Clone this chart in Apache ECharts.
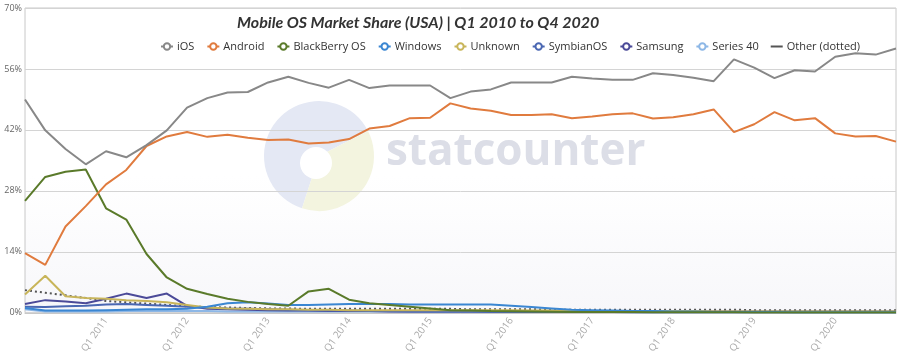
<!DOCTYPE html>
<html><head><meta charset="utf-8">
<script src="https://cdn.jsdelivr.net/npm/echarts@6/dist/echarts.min.js"></script>
<style>html,body{margin:0;padding:0;background:#fff}#c{width:900px;height:356px}</style>
</head><body><div id="c"></div>
<script>
const categories = ['Q1 2010','Q2 2010','Q3 2010','Q4 2010','Q1 2011','Q2 2011','Q3 2011','Q4 2011',
'Q1 2012','Q2 2012','Q3 2012','Q4 2012','Q1 2013','Q2 2013','Q3 2013','Q4 2013',
'Q1 2014','Q2 2014','Q3 2014','Q4 2014','Q1 2015','Q2 2015','Q3 2015','Q4 2015',
'Q1 2016','Q2 2016','Q3 2016','Q4 2016','Q1 2017','Q2 2017','Q3 2017','Q4 2017',
'Q1 2018','Q2 2018','Q3 2018','Q4 2018','Q1 2019','Q2 2019','Q3 2019','Q4 2019',
'Q1 2020','Q2 2020','Q3 2020','Q4 2020'];
const yTicks = [0, 14, 28, 42, 56, 70];
const ios = [49.0,41.9,37.6,34.1,37.1,35.7,38.5,41.9,47.1,49.3,50.6,50.7,52.9,54.2,52.8,51.7,53.5,51.6,52.2,52.2,52.2,49.3,50.8,51.3,52.9,52.9,52.9,54.2,53.8,53.5,53.5,55.0,54.6,54.0,53.2,58.2,56.3,53.9,55.7,55.4,58.8,59.6,59.3,60.7];
const android = [13.7,11.0,19.8,24.5,29.5,32.8,38.3,40.5,41.5,40.4,40.9,40.2,39.7,39.8,38.9,39.1,39.9,42.3,42.9,44.7,44.8,48.1,46.9,46.4,45.4,45.4,45.6,44.7,45.1,45.6,45.8,44.6,44.9,45.6,46.7,41.5,43.3,46.1,44.2,44.7,41.2,40.5,40.6,39.3];
const blackberry = [25.7,31.2,32.4,32.9,24.0,21.4,13.5,8.1,5.5,4.3,3.2,2.5,2.0,1.6,4.9,5.5,3.0,2.2,1.8,1.4,1.0,0.6,0.5,0.4,0.35,0.3,0.25,0.2,0.2,0.15,0.15,0.1,0.1,0.1,0.1,0.1,0.05,0.05,0.05,0.05,0.05,0.05,0.05,0.05];
const windows = [1.1,0.5,0.5,0.5,0.6,0.7,0.8,0.8,0.9,1.4,2.2,2.4,2.1,1.8,1.8,1.9,2.0,2.0,2.0,1.9,1.9,1.9,1.9,1.9,1.6,1.3,1.0,0.7,0.6,0.5,0.4,0.4,0.3,0.3,0.2,0.2,0.2,0.2,0.1,0.1,0.1,0.1,0.1,0.1];
const unknown = [4.2,8.5,3.8,3.4,3.2,2.9,2.7,2.4,1.8,1.2,1.0,0.9,0.8,0.8,0.7,0.7,0.6,0.6,0.6,0.6,0.6,0.6,0.6,0.6,0.6,0.5,0.5,0.5,0.4,0.4,0.4,0.4,0.4,0.4,0.3,0.3,0.3,0.3,0.3,0.3,0.3,0.3,0.3,0.3];
const symbian = [1.4,1.3,1.5,1.6,1.9,2.0,1.8,1.6,1.4,1.2,1.0,0.9,0.8,0.7,0.6,0.5,0.5,0.4,0.4,0.3,0.3,0.3,0.3,0.2,0.2,0.2,0.2,0.2,0.2,0.2,0.1,0.1,0.1,0.1,0.1,0.1,0.1,0.1,0.1,0.1,0.1,0.1,0.1,0.1];
const samsung = [2.0,2.9,2.6,2.2,3.2,4.4,3.4,4.4,1.6,0.9,0.8,0.7,0.6,0.5,0.5,0.4,0.4,0.4,0.3,0.3,0.3,0.3,0.3,0.3,0.3,0.3,0.3,0.3,0.3,0.3,0.3,0.3,0.3,0.3,0.3,0.3,0.3,0.3,0.3,0.3,0.3,0.3,0.3,0.3];
const series40 = [0.8,0.3,0.3,0.3,0.3,0.4,0.4,0.4,0.4,0.4,0.3,0.3,0.3,0.3,0.3,0.3,0.3,0.3,0.3,0.3,0.2,0.2,0.2,0.2,0.2,0.2,0.2,0.2,0.2,0.2,0.1,0.1,0.1,0.1,0.1,0.1,0.1,0.1,0.1,0.1,0.1,0.1,0.1,0.1];
const other = [5.2,4.6,4.0,3.4,2.7,2.4,2.1,1.8,1.5,1.3,1.2,1.1,1.0,1.0,0.9,0.9,0.9,0.9,0.9,0.9,0.9,0.9,0.8,0.8,0.8,0.8,0.7,0.7,0.7,0.7,0.7,0.7,0.7,0.7,0.7,0.7,0.6,0.6,0.6,0.6,0.6,0.6,0.6,0.6];

const seriesNames = ['iOS','Android','BlackBerry OS','Windows','Unknown','SymbianOS','Samsung','Series 40','Other (dotted)'];
const seriesData = [ios, android, blackberry, windows, unknown, symbian, samsung, series40, other];
const colors = ['#888888','#e07b3e','#5a7a2a','#3a86d2','#c8b55a','#4a67b2','#4b4a98','#8db7e6','#555555'];

const chart = echarts.init(document.getElementById('c'), null, {renderer:'canvas'});
const series = seriesNames.map((n, i) => ({
  name: n, type: 'line', data: seriesData[i], showSymbol: false, symbol: 'emptyCircle', symbolSize: 6,
  lineStyle: {width: 2, color: colors[i], type: n === 'Other (dotted)' ? [2, 3] : 'solid'},
  itemStyle: {color: colors[i]},
  z: 10 - i, animation: false
}));

chart.setOption({
  animation: false,
  color: colors,
  title: {
    text: 'Mobile OS Market Share (USA) | Q1 2010 to Q4 2020',
    left: 232, top: 10,
    textStyle: {fontFamily: 'Lato, "Open Sans", sans-serif', fontSize: 16, fontWeight: 'bold', fontStyle: 'italic', color: '#333'}
  },
  legend: {
    left: 155, top: 36, itemWidth: 12, itemHeight: 8, itemGap: 12,
    textStyle: {fontFamily: '"Open Sans", sans-serif', fontSize: 11, color: '#333', padding: [0,0,0,-1]},
    data: seriesNames.map(n => n === 'Other (dotted)' ? {name: n, icon: 'path://M0 0H12V2H0Z'} : {name: n})
  },
  grid: {left: 25, right: 4, top: 8, bottom: 42, show: true, borderColor: '#c8c8c8', borderWidth: 1,
    backgroundColor: new echarts.graphic.LinearGradient(0,0,0,1,[{offset:0,color:'#ffffff'},{offset:0.55,color:'#ffffff'},{offset:1,color:'#f7f7fa'}])},
  graphic: [
    {type: 'sector', z: 0, silent: true, shape: {cx: 319, cy: 156, r: 55, r0: 0, startAngle: Math.PI*0.6, endAngle: Math.PI*1.85}, style: {fill: '#e4e8f4'}},
    {type: 'sector', z: 0, silent: true, shape: {cx: 319, cy: 156, r: 55, r0: 0, startAngle: -Math.PI*0.15, endAngle: Math.PI*0.6}, style: {fill: '#f3f4df'}},
    {type: 'circle', z: 0, silent: true, shape: {cx: 316, cy: 163, r: 16}, style: {fill: '#ffffff'}},
    {type: 'text', z: 0, silent: true, left: 386, top: 130, style: {text: 'statcounter', fill: '#dcdee7', font: 'bold 44px "Open Sans", sans-serif'}}
  ],
  xAxis: {
    type: 'category', data: categories, boundaryGap: false,
    axisLine: {show: true, lineStyle: {color: '#c8c8c8'}},
    axisTick: {show: false},
    splitLine: {show: false},
    axisLabel: {
      interval: (idx, val) => idx > 0 && val.indexOf('Q1') === 0,
      rotate: 55, color: '#aaaaaa', fontSize: 10, fontFamily: '"Open Sans", sans-serif', margin: 6
    }
  },
  yAxis: {
    type: 'value', min: yTicks[0], max: yTicks[yTicks.length-1], interval: 14,
    axisLine: {show: false}, axisTick: {show: false},
    splitLine: {lineStyle: {color: '#d4d4d4'}},
    axisLabel: {formatter: '{value}%', color: '#666', fontSize: 9, fontFamily: '"Open Sans", sans-serif', margin: 3}
  },
  series: series
});
</script></body></html>
